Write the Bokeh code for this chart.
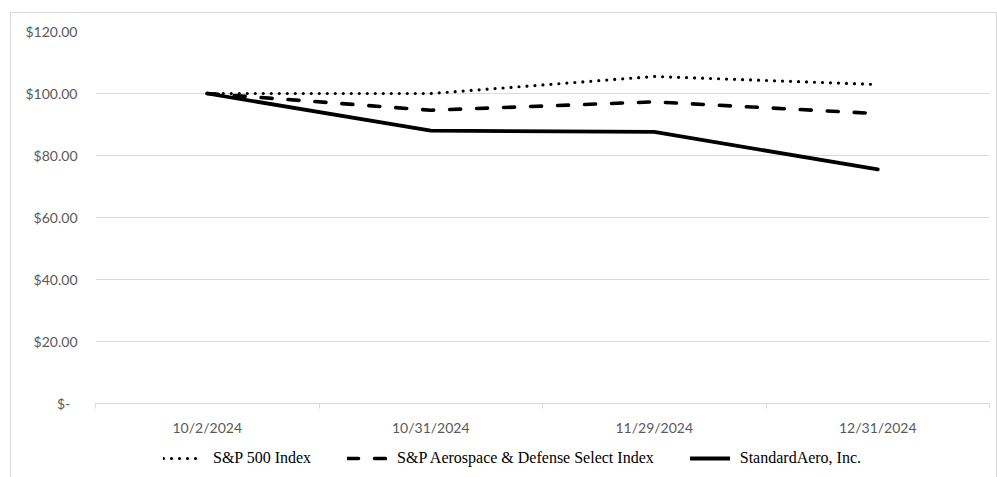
from bokeh.plotting import figure
from bokeh.layouts import column
from bokeh.models import (Range1d, FixedTicker, LinearAxis, Legend, LegendItem, Grid)
from bokeh.embed import file_html
from bokeh.resources import INLINE

dates = ["10/2/2024", "10/31/2024", "11/29/2024", "12/31/2024"]
sp500 = [100.0, 100.0, 105.5, 102.9]
aero_def = [100.0, 94.6, 97.3, 93.5]
standard_aero = [100.0, 88.0, 87.6, 75.5]
series_names = ["S&P 500 Index", "S&P Aerospace & Defense Select Index", "StandardAero, Inc."]
y_ticks = [0, 20, 40, 60, 80, 100, 120]
y_tick_labels = ["$-\u00a0\u00a0", "$20.00", "$40.00", "$60.00", "$80.00", "$100.00", "$120.00"]

x = list(range(len(dates)))
bounds = [i - 0.5 for i in range(len(dates) + 1)]

GRID = "#d9d9d9"
LABEL = "#595959"

styles = [
    dict(line_color="black", line_width=3.2, line_dash="0 8", line_cap="round", line_join="round"),
    dict(line_color="black", line_width=3.6, line_dash="11 16", line_cap="round", line_join="round"),
    dict(line_color="black", line_width=3.8, line_cap="round", line_join="round"),
]

p = figure(width=985, height=425, output_backend="svg", toolbar_location=None,
           x_range=Range1d(bounds[0], bounds[-1]), y_range=Range1d(0, 120),
           min_border_left=84, min_border_right=7, min_border_top=18, min_border_bottom=35,
           x_axis_type=None, y_axis_type=None)
p.outline_line_color = None
p.background_fill_color = "white"
p.border_fill_color = "white"

# y axis
yax = LinearAxis(ticker=FixedTicker(ticks=y_ticks, minor_ticks=[]))
yax.major_label_overrides = {t: l for t, l in zip(y_ticks, y_tick_labels)}
yax.axis_line_color = None
yax.major_tick_line_color = None
yax.major_tick_out = 0
yax.major_tick_in = 0
yax.major_label_standoff = 18
yax.major_label_text_font = "Lato"
yax.major_label_text_font_size = "14px"
yax.major_label_text_color = LABEL
p.add_layout(yax, "left")

# x axis: labels at category centres, tick marks at category boundaries
xax = LinearAxis(ticker=FixedTicker(ticks=x, minor_ticks=bounds))
xax.major_label_overrides = {i: d for i, d in zip(x, dates)}
xax.axis_line_color = GRID
xax.major_tick_line_color = None
xax.major_tick_out = 0
xax.major_tick_in = 0
xax.minor_tick_line_color = GRID
xax.minor_tick_out = 5
xax.minor_tick_in = 0
xax.major_label_standoff = 10
xax.major_label_text_font = "Lato"
xax.major_label_text_font_size = "14px"
xax.major_label_text_color = LABEL
p.add_layout(xax, "below")

p.add_layout(Grid(dimension=1, ticker=yax.ticker, grid_line_color=GRID, grid_line_width=1))

series = [sp500, aero_def, standard_aero]
for ys, st in zip(series, styles):
    p.line(x, ys, **st)

# legend strip below the chart (its lines fall outside its range, only the legend shows)
lp = figure(width=985, height=39, output_backend="svg", toolbar_location=None,
            x_range=Range1d(-10, -9), y_range=Range1d(-10, -9),
            min_border_left=84, min_border_right=7, min_border_top=0, min_border_bottom=0,
            x_axis_type=None, y_axis_type=None)
lp.outline_line_color = None
lp.border_fill_color = "white"
lrs = [lp.line(x, ys, **st) for ys, st in zip(series, styles)]

legend = Legend(items=[LegendItem(label=n, renderers=[r]) for n, r in zip(series_names, lrs)],
                orientation="horizontal", location=(68, 9))
legend.padding = 0
legend.margin = 0
legend.border_line_color = None
legend.background_fill_alpha = 0
legend.glyph_width = 40
legend.glyph_height = 20
legend.label_standoff = 10
legend.spacing = 36
legend.label_text_font = "Liberation Serif"
legend.label_text_font_size = "16px"
legend.label_text_color = "black"
lp.add_layout(legend, "center")

layout = column(p, lp, spacing=0)
layout.margin = (12, 0, 0, 10)
layout.styles = {"border": "1px solid #d9d9d9"}

open("out.html", "w").write(file_html(layout, INLINE))
